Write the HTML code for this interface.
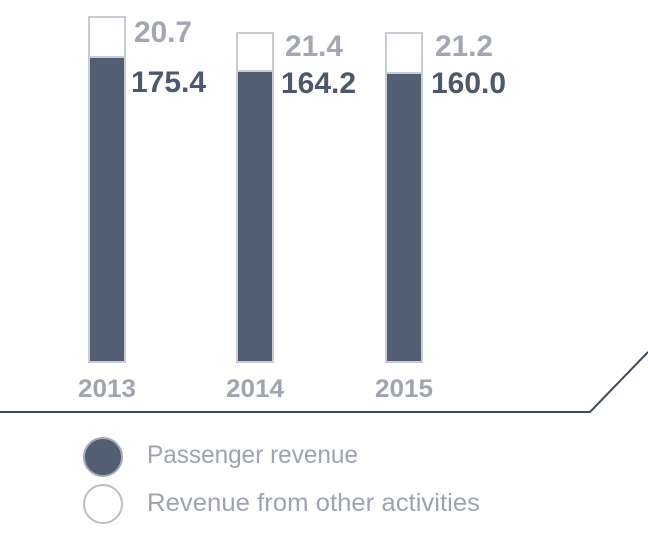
<!DOCTYPE html>
<html><head><style>
body{margin:0;background:#fff;width:648px;height:535px;overflow:hidden}
svg text{font-family:"Liberation Sans",sans-serif}
</style></head><body>
<svg width="648" height="535" xmlns="http://www.w3.org/2000/svg">
<g stroke="#c9ccd4" stroke-width="2">
<rect x="89" y="17" width="36" height="40" fill="#fff"/>
<rect x="89" y="57" width="36" height="305" fill="#525f72"/>
<rect x="237" y="33" width="36" height="38" fill="#fff"/>
<rect x="237" y="71" width="36" height="291" fill="#525f72"/>
<rect x="386" y="33" width="36" height="40" fill="#fff"/>
<rect x="386" y="73" width="36" height="289" fill="#525f72"/>
</g>
<g font-weight="bold" font-size="30">
<text x="134" y="42" fill="#a3a7b2" textLength="58" lengthAdjust="spacingAndGlyphs">20.7</text>
<text x="131" y="92" fill="#4c586b" textLength="75" lengthAdjust="spacingAndGlyphs">175.4</text>
<text x="285" y="56" fill="#a3a7b2" textLength="58" lengthAdjust="spacingAndGlyphs">21.4</text>
<text x="281" y="93" fill="#4c586b" textLength="75" lengthAdjust="spacingAndGlyphs">164.2</text>
<text x="435" y="56" fill="#a3a7b2" textLength="58" lengthAdjust="spacingAndGlyphs">21.2</text>
<text x="431" y="93" fill="#4c586b" textLength="75" lengthAdjust="spacingAndGlyphs">160.0</text>
</g>
<g font-weight="bold" font-size="25" fill="#a0a4ae">
<text x="78" y="397" textLength="58" lengthAdjust="spacingAndGlyphs">2013</text>
<text x="226" y="397" textLength="58" lengthAdjust="spacingAndGlyphs">2014</text>
<text x="375" y="397" textLength="58" lengthAdjust="spacingAndGlyphs">2015</text>
</g>
<polyline points="0,412 590,412 648,352" fill="none" stroke="#3f4b5c" stroke-width="2"/>
<circle cx="103" cy="457" r="19" fill="#525f72" stroke="#a3a8b4" stroke-width="2"/>
<circle cx="103" cy="504" r="19" fill="#fff" stroke="#b9bdc6" stroke-width="2"/>
<g font-size="25" fill="#9ea3ae">
<text x="147" y="463" textLength="211" lengthAdjust="spacingAndGlyphs">Passenger revenue</text>
<text x="147" y="511" textLength="333" lengthAdjust="spacingAndGlyphs">Revenue from other activities</text>
</g>
</svg>
</body></html>
